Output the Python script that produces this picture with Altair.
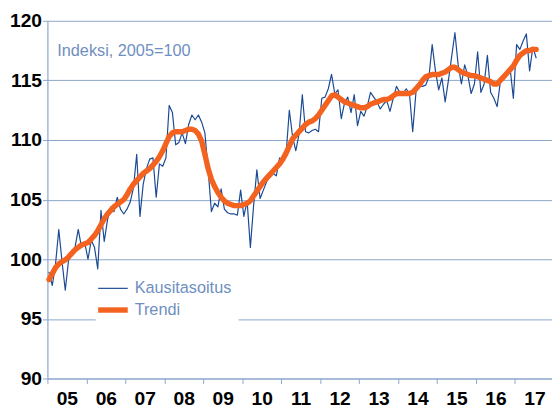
import altair as alt
import pandas as pd

# ---- data ----
years = list(range(2005, 2018))
year_labels = ["05", "06", "07", "08", "09", "10", "11", "12", "13", "14", "15", "16", "17"]
series_names = ["Kausitasoitus", "Trendi"]
note = "Indeksi, 2005=100"

# monthly values Jan 2005 .. Jul 2017
kausitasoitus = [
    98.9, 97.8, 99.6, 102.5, 99.8, 97.4, 99.9, 100.4, 101.0, 102.5, 101.0, 101.4,   # 2005
    100.0, 101.6, 101.0, 99.2, 104.1, 101.5, 103.3, 104.4, 104.0, 105.2, 104.2, 103.8,  # 2006
    104.2, 104.8, 106.0, 108.8, 103.6, 106.3, 107.6, 108.4, 108.5, 105.2, 108.0, 107.8,  # 2007
    108.5, 112.9, 112.3, 109.6, 109.8, 110.6, 109.7, 111.3, 112.1, 111.7, 112.1, 111.5,  # 2008
    110.6, 107.5, 104.0, 104.7, 104.4, 105.9, 104.2, 103.9, 103.8, 103.8, 103.7, 105.8,  # 2009
    103.6, 104.9, 101.0, 104.5, 107.5, 105.1, 105.8, 106.5, 106.9, 107.2, 107.0, 108.5,  # 2010
    108.2, 108.8, 112.5, 110.3, 109.1, 110.5, 113.8, 110.7, 110.6, 110.8, 110.9, 110.7,  # 2011
    113.5, 113.6, 114.3, 115.5, 113.9, 114.2, 111.8, 113.1, 113.6, 112.3, 113.8, 111.2,  # 2012
    112.4, 112.0, 112.8, 114.0, 113.6, 113.2, 112.6, 113.0, 113.3, 112.4, 113.5, 114.5,  # 2013
    114.0, 113.9, 114.3, 113.9, 110.7, 114.0, 114.6, 114.5, 114.6, 115.3, 118.0, 115.8,  # 2014
    114.2, 115.2, 113.2, 115.0, 117.0, 119.0, 116.3, 114.7, 116.3, 115.4, 113.9, 114.7,  # 2015
    117.4, 114.0, 114.7, 117.1, 114.0, 113.5, 112.8, 114.9, 115.3, 115.7, 116.0, 113.5,  # 2016
    118.0, 117.6, 118.3, 118.9, 115.8, 117.8, 116.9,                                      # 2017
]
trendi = [
    98.3, 98.8, 99.3, 99.6, 99.8, 99.95, 100.2, 100.5, 100.8, 101.0, 101.2, 101.3,
    101.4, 101.7, 102.0, 102.4, 102.9, 103.4, 103.8, 104.1, 104.4, 104.6, 104.8, 105.0,
    105.4, 105.9, 106.3, 106.6, 106.9, 107.2, 107.4, 107.6, 107.9, 108.2, 108.6, 109.1,
    109.7, 110.3, 110.6, 110.7, 110.7, 110.7, 110.8, 110.9, 110.9, 110.8, 110.5, 109.9,
    108.8, 107.6, 106.7, 106.1, 105.6, 105.2, 104.9, 104.7, 104.6, 104.5, 104.5, 104.5,
    104.6, 104.7, 104.9, 105.3, 105.7, 106.1, 106.5, 106.8, 107.1, 107.4, 107.7, 108.0,
    108.4, 108.9, 109.5, 110.1, 110.4, 110.7, 111.0, 111.3, 111.5, 111.6, 111.8, 112.1,
    112.5, 112.9, 113.3, 113.7, 113.8, 113.6, 113.4, 113.2, 113.1, 113.0, 112.9, 112.8,
    112.7, 112.7, 112.8, 113.0, 113.1, 113.2, 113.3, 113.4, 113.4, 113.5, 113.7, 113.9,
    113.9, 113.9, 113.9, 113.9, 114.0, 114.3, 114.6, 115.0, 115.3, 115.4, 115.5, 115.5,
    115.5, 115.6, 115.7, 115.9, 116.1, 116.1, 115.9, 115.7, 115.6, 115.5, 115.4, 115.4,
    115.3, 115.2, 115.1, 115.0, 114.9, 114.7, 114.7, 115.0, 115.3, 115.6, 115.9, 116.2,
    116.7, 117.1, 117.3, 117.5, 117.5, 117.6, 117.6,
]

rows = []
for name, vals in zip(series_names, [kausitasoitus, trendi]):
    for i, v in enumerate(vals):
        rows.append({"series": name, "t": 2005 + (i + 0.5) / 12, "value": v})
df = pd.DataFrame(rows)

AXIS_BLUE = "#8ba6c9"
TEXT_BLUE = "#6f8fbf"
FONT = "Liberation Sans"

label_array = "[" + ",".join("'" + s + "'" for s in year_labels) + "]"

legend = alt.Legend(
    title=None,
    orient="none",
    legendX=49,
    legendY=256,
    padding=7,
    fillColor="white",
    symbolType="M-2,0H2",
    symbolSize=225,
    labelOffset=11.5,
    labelFont=FONT,
    labelFontSize=16.5,
    labelColor=TEXT_BLUE,
    rowPadding=2,
    labelExpr="datum.label == 'Trendi' ? '\u00a0' + datum.label : datum.label",
)

lines = alt.Chart(df).mark_line(strokeCap="round", strokeJoin="round").encode(
    x=alt.X(
        "t:Q",
        scale=alt.Scale(domain=[2005, 2017.95], nice=False, zero=False),
        axis=alt.Axis(
            title=None,
            values=years,
            labelExpr=label_array + "[datum.value - 2005]",
            labelOffset=19.75,
            labelFlush=False,
            labelOverlap=False,
            labelBound=False,
            grid=False,
            tickSize=5,
            labelPadding=6,
        ),
    ),
    y=alt.Y(
        "value:Q",
        scale=alt.Scale(domain=[90, 120], nice=False, zero=False),
        axis=alt.Axis(
            title=None,
            values=[90, 95, 100, 105, 110, 115, 120],
            grid=True,
            tickSize=5,
            labelPadding=1,
        ),
    ),
    stroke=alt.Stroke(
        "series:N",
        scale=alt.Scale(domain=series_names, range=["#1b4a94", "#f4621f"]),
        legend=legend,
    ),
    strokeWidth=alt.StrokeWidth(
        "series:N",
        scale=alt.Scale(domain=series_names, range=[1.2, 5.5]),
        legend=legend,
    ),
)

note_layer = alt.Chart(pd.DataFrame({"label": [note]})).mark_text(
    align="left", baseline="alphabetic", font=FONT, fontSize=16.5, color=TEXT_BLUE
).encode(x=alt.value(10), y=alt.value(36), text="label:N")

chart = (
    alt.layer(lines, note_layer)
    .properties(
        width=512,
        height=363,
        autosize=alt.AutoSizeParams(type="none"),
        padding={"left": 40, "top": 10, "right": 0, "bottom": 31},
    )
    .configure_view(stroke=None)
    .configure_axis(
        domainColor=AXIS_BLUE,
        tickColor=AXIS_BLUE,
        gridColor=AXIS_BLUE,
        gridWidth=1,
        domainWidth=1.2,
        labelFont=FONT,
        labelFontSize=19.5,
        labelFontWeight="bold",
        labelColor="black",
    )
)

chart.save("out.html", embed_options={"renderer": "svg", "actions": False})
